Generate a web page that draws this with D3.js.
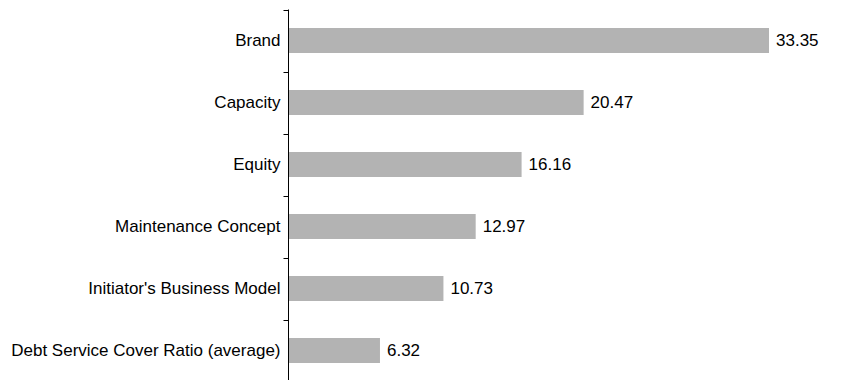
<!DOCTYPE html>
<html>
<head>
<meta charset="utf-8">
<script src="https://cdn.jsdelivr.net/npm/d3@7"></script>
<style>
  html, body { margin: 0; padding: 0; background: #fff; }
  svg text { font-family: "Liberation Sans", Arial, Helvetica, sans-serif; }
</style>
</head>
<body>
<svg id="chart" width="866" height="380"></svg>
<script>
// Factor weights, top to bottom
const categories = [
  "Brand",
  "Capacity",
  "Equity",
  "Maintenance Concept",
  "Initiator's Business Model",
  "Debt Service Cover Ratio (average)"
];
const values = [33.35, 20.47, 16.16, 12.97, 10.73, 6.32];
const valueLabels = ["33.35", "20.47", "16.16", "12.97", "10.73", "6.32"];

const svg = d3.select("#chart");
const axisX = 288.5;
const plotTop = 9.5, plotBottom = 381.5;
const fontSize = 17;

// one band per category; ticks sit on band boundaries
const y = d3.scaleBand().domain(categories).range([plotTop, plotBottom]).paddingInner(0).paddingOuter(0);
const x = d3.scaleLinear().domain([0, 33.35]).range([axisX + 0.5, 769]);

const barH = 25;

// bars
svg.append("g").selectAll("rect")
  .data(values)
  .join("rect")
  .attr("x", x(0))
  .attr("y", (d, i) => y(categories[i]) + y.bandwidth() / 2 - barH / 2)
  .attr("width", d => x(d) - x(0))
  .attr("height", barH)
  .attr("fill", "#b3b3b3");

// value labels
svg.append("g").selectAll("text")
  .data(values)
  .join("text")
  .attr("x", d => x(d) + 7)
  .attr("y", (d, i) => y(categories[i]) + y.bandwidth() / 2)
  .attr("dy", "0.35em")
  .attr("font-size", fontSize)
  .attr("fill", "#000")
  .text((d, i) => valueLabels[i]);

// category axis: labels at band centres, no tick marks
const axis = d3.axisLeft(y).tickSize(0).tickPadding(8);
const gAxis = svg.append("g").attr("transform", `translate(${axisX},0)`).call(axis);
gAxis.select(".domain").remove();
gAxis.selectAll("text").attr("font-size", fontSize).attr("fill", "#000")
  .style("font-family", '"Liberation Sans", Arial, sans-serif');

// axis line and boundary ticks
const boundaries = categories.map(c => y(c)).concat([plotBottom]);
svg.append("line")
  .attr("x1", axisX).attr("x2", axisX)
  .attr("y1", plotTop).attr("y2", plotBottom)
  .attr("stroke", "#000").attr("stroke-width", 1);
svg.append("g").selectAll("line")
  .data(boundaries)
  .join("line")
  .attr("x1", axisX - 5).attr("x2", axisX)
  .attr("y1", d => Math.round(d) + 0.5).attr("y2", d => Math.round(d) + 0.5)
  .attr("stroke", "#000").attr("stroke-width", 1);
</script>
</body>
</html>
